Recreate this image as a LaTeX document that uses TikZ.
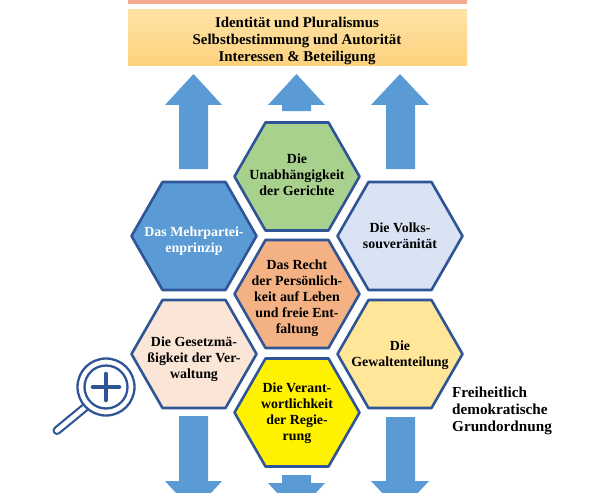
\documentclass[tikz,border=0pt]{standalone}
\usepackage{fontspec}
\setmainfont{Liberation Serif}
\definecolor{arrowblue}{HTML}{5B9BD5}
\definecolor{rim}{HTML}{2F5597}
\tikzset{
  hexlabel/.style={align=center,inner sep=0pt,font=\fontsize{13.9pt}{16pt}\selectfont\bfseries},
  hexrim/.style={draw=rim,line width=2.6pt,line join=round},
  flow/.style={fill=arrowblue,draw=none},
  txt/.style={align=center,inner sep=0pt,font=\fontsize{14.9pt}{17pt}\selectfont\bfseries},
  lens/.style={draw=rim,line width=2.3pt,fill=white}
}
% name, x, y, fill colour, text colour, text y offset, text
\newcommand{\hexcell}[7]{%
  \path[hexrim,fill=#4] (#2-62.5,#3)--(#2-31.5,#3-54)--(#2+31.5,#3-54)--(#2+62.5,#3)--(#2+31.5,#3+54)--(#2-31.5,#3+54)--cycle;
  \node[hexlabel,text=#5] (#1) at (#2,#3+#6) {#7};}
\definecolor{cGreen}{RGB}{169,209,142}
\definecolor{cIce}{RGB}{218,227,243}
\definecolor{cOrange}{RGB}{244,177,131}
\definecolor{cPeach}{RGB}{251,229,214}
\definecolor{cSand}{RGB}{255,230,153}
\definecolor{cSalmon}{RGB}{244,169,140}
\definecolor{cBarTop}{RGB}{255,226,165}
\definecolor{cBarBot}{RGB}{253,210,125}
\begin{document}
\begin{tikzpicture}[x=1pt,y=-1pt]
\useasboundingbox (0,0) rectangle (596,492);
\clip (0,0) rectangle (596,492);
\fill[fill=white] (0,0) rectangle (596,492);
% top bars
\fill[fill=cSalmon] (128,-2) rectangle (467,4);
\shade[top color=cBarTop,bottom color=cBarBot] (128,10) rectangle (467,66);
\node[txt] (bar) at (297,40.5) {Identität und Pluralismus\\Selbstbestimmung und Autorität\\Interessen \& Beteiligung};
% up arrows
\fill[flow] (179,169)--(179,105)--(165,105)--(193.5,74)--(222,105)--(208,105)--(208,169)--cycle;
\fill[flow] (282,111)--(282,105)--(268,105)--(296.5,74)--(325,105)--(311,105)--(311,111)--cycle;
\fill[flow] (386,169)--(386,105)--(371,105)--(400,74)--(429,105)--(415,105)--(415,169)--cycle;
% down arrows
\fill[flow] (179,416)--(179,481)--(165,481)--(193.5,512)--(222,481)--(208,481)--(208,416)--cycle;
\fill[flow] (282,475)--(282,483)--(268,483)--(296.5,514)--(325,483)--(311,483)--(311,475)--cycle;
\fill[flow] (386,417)--(386,481)--(371,481)--(400,512)--(429,481)--(415,481)--(415,417)--cycle;
% hexagons
\hexcell{gericht}{297}{176.5}{cGreen}{black}{-2}{Die\\Unabhängigkeit\\der Gerichte}
\hexcell{mehr}{194}{236}{arrowblue}{white}{5}{Das Mehrpartei-\\enprinzip}
\hexcell{volk}{400}{236}{cIce}{black}{0}{Die Volks-\\souveränität}
\hexcell{recht}{297}{294}{cOrange}{black}{4}{Das Recht\\der Persönlich-\\keit auf Leben\\und freie Ent-\\faltung}
\hexcell{gesetz}{194}{354}{cPeach}{black}{5}{Die Gesetzmä-\\ßigkeit der Ver-\\waltung}
\hexcell{gewalt}{400}{354}{cSand}{black}{1}{Die\\Gewaltenteilung}
\hexcell{verant}{297}{412.5}{yellow}{black}{1}{Die Verant-\\wortlichkeit\\der Regie-\\rung}
% label
\node[txt,align=left,anchor=west,font=\fontsize{15.2pt}{17pt}\selectfont\bfseries] (fdgo) at (452,411) {Freiheitlich\\demokratische\\Grundordnung};
% magnifier
\draw[draw=rim,line width=9pt,line cap=round] (88,405)--(57,430.5);
\draw[draw=white,line width=4.6pt,line cap=round] (88,405)--(57,430.5);
\draw[lens] (106,387) circle (28.5);
\draw[lens] (106,387) circle (21.5);
\draw[draw=rim,line width=4.6pt,line cap=round] (93,387)--(119,387) (106,374)--(106,400);
\end{tikzpicture}
\end{document}
